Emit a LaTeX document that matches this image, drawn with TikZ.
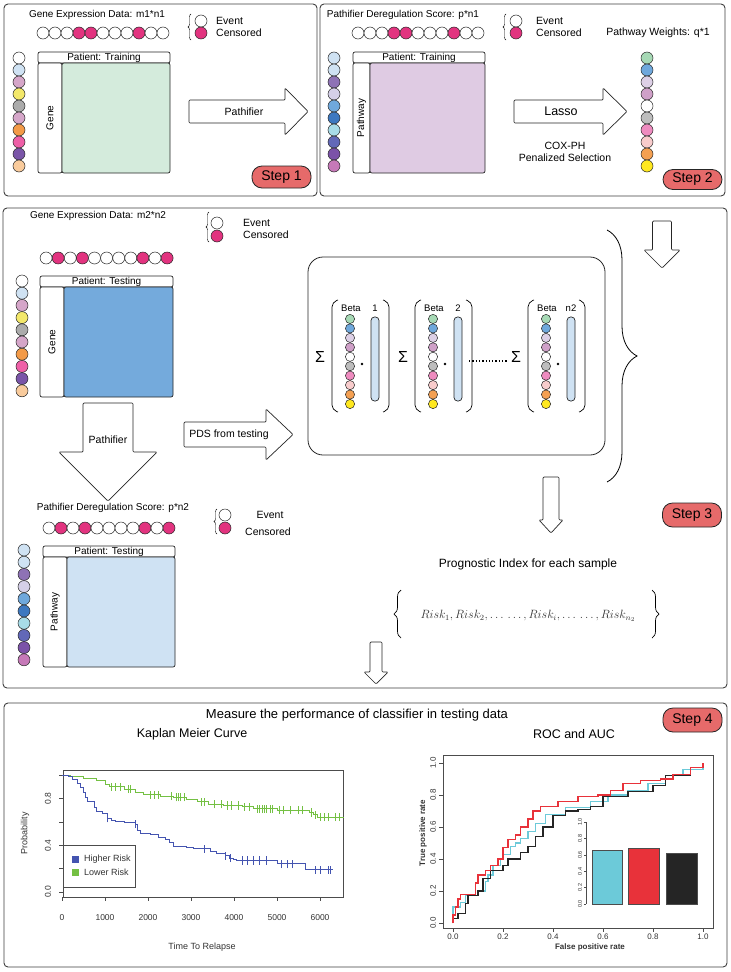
\documentclass[tikz,border=0pt]{standalone}
\usepackage{fontspec}
\setmainfont{Liberation Sans}
\usepackage{tikz}
\usepackage{xcolor}
\usetikzlibrary{decorations.pathreplacing, positioning}
\definecolor{cens}{HTML}{E2337F}
\definecolor{stepred}{HTML}{E66A6A}
\definecolor{trainGreen}{HTML}{D4EBDC}
\definecolor{trainPurple}{HTML}{DFCBE3}
\definecolor{testBlue}{HTML}{74AADC}
\definecolor{pdsBlue}{HTML}{CFE2F3}
% gene colours
\definecolor{gBlue}{HTML}{CFE2F3}
\definecolor{gLilac}{HTML}{D5A6C9}
\definecolor{gYellow}{HTML}{F3E86A}
\definecolor{gGray}{HTML}{ABABAB}
\definecolor{gOrange}{HTML}{F39A47}
\definecolor{gPink}{HTML}{EE5FA7}
\definecolor{gPurple}{HTML}{7A55A8}
\definecolor{gPeach}{HTML}{F9CB9C}
% pathway colours
\definecolor{pViolet}{HTML}{8E72B5}
\definecolor{pLavender}{HTML}{D5D0E8}
\definecolor{pBlue}{HTML}{6FA8DC}
\definecolor{pNavy}{HTML}{3D78C0}
\definecolor{pCyan}{HTML}{A8DCE8}
\definecolor{pSlate}{HTML}{6268B8}
\definecolor{pPurple}{HTML}{7B52A8}
\definecolor{pOrchid}{HTML}{C679B8}
% weight colours
\definecolor{wMint}{HTML}{A6D9B5}
\definecolor{wLavender}{HTML}{DDD0E6}
\definecolor{wLilac}{HTML}{CFA0C8}
\definecolor{wGray}{HTML}{BDBDBD}
\definecolor{wPink}{HTML}{EE8BBF}
\definecolor{wRose}{HTML}{F8CCCC}
\definecolor{wOrange}{HTML}{F4A052}
\definecolor{wYellow}{HTML}{FFE81F}
% plot colours
\definecolor{kmBlue}{HTML}{4454B0}
\definecolor{kmGreen}{HTML}{74C043}
\definecolor{rocCyan}{HTML}{6CCAD9}
\definecolor{rocRed}{HTML}{E8323A}
\definecolor{rocBlack}{HTML}{252525}

\begin{document}
\begin{tikzpicture}[x=1pt, y=-1pt,
    panel/.style={draw=black!75, line width=0.9pt, rounded corners=4pt},
    ball/.style={draw=black!85, line width=0.5pt},
    cell/.style={draw=black!85, line width=0.7pt, rounded corners=2pt},
    blkarrow/.style={draw=black!85, line width=0.7pt, fill=white, rounded corners=1pt},
    badge/.style={draw=black!85, line width=0.8pt, fill=stepred, rounded corners=10pt,
        minimum width=59pt, minimum height=22pt, inner sep=0pt, font=\fontsize{14}{16}\selectfont},
    lbl/.style={font=\fontsize{10}{12}\selectfont, inner sep=1pt},
    lgd/.style={font=\fontsize{10.5}{12}\selectfont, inner sep=1pt},
    hdr/.style={font=\fontsize{10}{12}\selectfont, inner sep=0pt},
    arr/.style={font=\fontsize{10.5}{12}\selectfont, inner sep=1pt},
    beta/.style={font=\fontsize{9.5}{11}\selectfont, inner sep=0pt},
    sig/.style={font=\fontsize{16}{18}\selectfont, inner sep=0pt},
    paren/.style={line width=0.7pt, rounded corners=5pt},
    ticklbl/.style={font=\fontsize{8}{9}\selectfont, inner sep=0pt, text=black!80},
    axln/.style={draw=black!70, line width=0.5pt}]
\useasboundingbox (0,0) rectangle (731,972);
\fill[white] (0,0) rectangle (731,972);

% Step 1: training expression
\draw[panel] (4,4) rectangle (317,196);
\node[lbl] (t1) at (97,15) {Gene Expression Data: m1*n1};
\foreach \c [count=\i] in {white,white,white,cens,cens,white,white,white,cens,white,white}
  \draw[ball, fill=\c] (31+12*\i,33) circle (6pt);
\draw[decorate, decoration={brace, amplitude=3pt}] (191,40) -- (191,14);
\draw[ball, fill=white] (201,21) circle (6pt);
\draw[ball, fill=cens] (201,33) circle (6pt);
\node[lgd, right] (ev1) at (215,21) {Event};
\node[lgd, right] (ce1) at (215,33) {Censored};
\foreach \c [count=\i] in {white,gBlue,gLilac,gYellow,gGray,gLilac,gOrange,gPink,gPurple,gPeach}
  \draw[ball, fill=\c] (19,46+12*\i) circle (6pt);
\draw[cell, fill=white] (38,52) rectangle (170,63);
\node[hdr] (h1) at (104,57.5) {Patient: Training};
\draw[cell, fill=white] (38,63) rectangle (62,173);
\draw[cell, fill=trainGreen] (62,63) rectangle (170,173);
\node[hdr, rotate=90] (g1) at (50,118) {Gene};
\draw[blkarrow] (189,100) -- (285,100) -- (285,88) -- (308,111.5) -- (285,135) -- (285,123) -- (189,123) -- cycle;
\node[arr] (a1) at (244,111.5) {Pathifier};
\node[badge] (s1) at (281.5,177) {Step 1};

% Step 2: pathway scores and lasso
\draw[panel] (320,4) rectangle (725,196);
\node[lbl] (t2) at (403,15) {Pathifier Deregulation Score: p*n1};
\foreach \c [count=\i] in {white,white,white,cens,cens,white,white,white,cens,white,white}
  \draw[ball, fill=\c] (346+12*\i,33) circle (6pt);
\draw[decorate, decoration={brace, amplitude=3pt}] (506,40) -- (506,14);
\draw[ball, fill=white] (516,21) circle (6pt);
\draw[ball, fill=cens] (516,33) circle (6pt);
\node[lgd, right] (ev2) at (535,21) {Event};
\node[lgd, right] (ce2) at (535,33) {Censored};
\node[lgd] (pw) at (658,33) {Pathway Weights: q*1};
\foreach \c [count=\i] in {gBlue,gBlue,pViolet,pLavender,pBlue,pNavy,pCyan,pSlate,pPurple,pOrchid}
  \draw[ball, fill=\c] (334,46+12*\i) circle (6pt);
\draw[cell, fill=white] (353,52) rectangle (485,63);
\node[hdr] (h2) at (419,57.5) {Patient: Training};
\draw[cell, fill=white] (353,63) rectangle (370,173);
\draw[cell, fill=trainPurple] (370,63) rectangle (485,173);
\node[hdr, rotate=90] (g2) at (361.5,118) {Pathway};
\draw[blkarrow] (514,100) -- (603,100) -- (603,88) -- (627,111.5) -- (603,135) -- (603,123) -- (514,123) -- cycle;
\node[arr, font=\fontsize{12.5}{14}\selectfont] (a2) at (561,111.5) {Lasso};
\node[arr] (cox) at (565,146) {COX-PH};
\node[arr, below=2pt of cox] (pen) {Penalized Selection};
\foreach \c [count=\i] in {wMint,pBlue,wLavender,wLilac,white,wGray,wPink,wRose,wOrange,wYellow}
  \draw[ball, fill=\c] (647,46+12*\i) circle (6pt);
\node[badge, minimum height=20pt] (s2) at (692.5,179.5) {Step 2};

% Step 3: testing
\draw[panel] (3,208) rectangle (727,688);
\node[lbl] (t3) at (98,216) {Gene Expression Data: m2*n2};
\draw[decorate, decoration={brace, amplitude=3pt}] (209,242) -- (209,212);
\draw[ball, fill=white] (217,223) circle (6pt);
\draw[ball, fill=cens] (217,236) circle (6pt);
\node[lgd, right] (ev3) at (242,223) {Event};
\node[lgd, right] (ce3) at (242,235) {Censored};
\foreach \c [count=\i] in {white,cens,white,cens,white,white,white,white,cens,white,cens}
  \draw[ball, fill=\c] (34+12.1*\i,258) circle (6pt);
\foreach \c [count=\i] in {white,gBlue,gLilac,gYellow,gGray,gLilac,gOrange,gPink,gPurple,gPeach}
  \draw[ball, fill=\c] (22,268.8+12.2*\i) circle (6pt);
\draw[cell, fill=white] (40,276) rectangle (173,287);
\node[hdr] (h3) at (106.5,281.5) {Patient: Testing};
\draw[cell, fill=white] (40,287) rectangle (64,397);
\draw[cell, fill=testBlue] (64,287) rectangle (173,397);
\node[hdr, rotate=90] (g3) at (52,342) {Gene};
\draw[blkarrow] (83,403) -- (133,403) -- (133,452) -- (157,452) -- (108,501) -- (59,452) -- (83,452) -- cycle;
\node[arr] (a3) at (108,440) {Pathifier};
\draw[blkarrow] (184,422) -- (266,422) -- (266,409) -- (293,434.5) -- (266,460) -- (266,447) -- (184,447) -- cycle;
\node[arr] (a4) at (229,434.5) {PDS from testing};

% pathway scores of testing set
\node[lbl] (t4) at (113,508) {Pathifier Deregulation Score: p*n2};
\foreach \c [count=\i] in {white,cens,white,cens,white,white,white,white,cens,white,cens}
  \draw[ball, fill=\c] (37+12*\i,528) circle (6pt);
\draw[decorate, decoration={brace, amplitude=3pt}] (217,534) -- (217,509);
\draw[ball, fill=white] (225,515) circle (6pt);
\draw[ball, fill=cens] (225,528) circle (6pt);
\node[lgd] (ev4) at (270,515) {Event};
\node[lgd] (ce4) at (268,532) {Censored};
\foreach \c [count=\i] in {gBlue,gBlue,pViolet,pLavender,pBlue,pNavy,pCyan,pSlate,pPurple,pOrchid}
  \draw[ball, fill=\c] (24,537.8+12.2*\i) circle (6pt);
\draw[cell, fill=white] (43,546) rectangle (175,557);
\node[hdr] (h4) at (109,551.5) {Patient: Testing};
\draw[cell, fill=white] (43,557) rectangle (67,667);
\draw[cell, fill=pdsBlue] (67,557) rectangle (175,667);
\node[hdr, rotate=90] (g4) at (55,612) {Pathway};

% weighted sums
\draw[line width=0.8pt, draw=black!85, rounded corners=15pt] (308,257) rectangle (605,455);
\foreach \gx/\lab in {332/1,415/2,528/n2}{
  \node[sig] (sg\lab) at (\gx-12,357) {Σ};
  \draw[paren] (\gx+6,300) -- (\gx,302) -- (\gx,410) -- (\gx+6,412);
  \draw[paren] (\gx+51,300) -- (\gx+57,302) -- (\gx+57,410) -- (\gx+51,412);
  \node[beta] (bt\lab) at (\gx+19,308) {Beta};
  \node[beta] (nb\lab) at (\gx+43,308) {\lab};
  \foreach \c [count=\i] in {wMint,pBlue,wLavender,wLilac,white,wGray,wPink,wRose,wOrange,wYellow}
    \draw[ball, fill=\c] (\gx+18,309.5+9.45*\i) circle (4.6pt);
  \fill (\gx+30,364) circle (1.3pt);
  \draw[cell, fill=pdsBlue, rounded corners=3.5pt] (\gx+39,317) rectangle (\gx+47,401);
}
\draw[dotted, line width=1.3pt] (469,361) -- (508,361);
\draw[decorate, decoration={brace, amplitude=30pt}, line width=0.8pt] (607,230) -- (607,482);
\draw[blkarrow] (652.5,221) -- (671.5,221) -- (671.5,250) -- (680,250) -- (662,268) -- (644,250) -- (652.5,250) -- cycle;
\draw[blkarrow] (543,477) -- (559,477) -- (559,520) -- (563,520) -- (551,533) -- (539,520) -- (543,520) -- cycle;
\node[badge, minimum height=24pt] (s3) at (692,515) {Step 3};
\node[font=\fontsize{12}{14}\selectfont] (pi) at (528,564) {Prognostic Index for each sample};
\draw[decorate, decoration={brace, amplitude=7pt}, line width=0.7pt] (401,638) -- (401,590);
\draw[decorate, decoration={brace, amplitude=7pt}, line width=0.7pt] (652,590) -- (652,638);
\node[font=\large, text=black!80] (risk) at (528,616) {$Risk_1, Risk_2, \ldots\,\ldots, Risk_i, \ldots\,\ldots, Risk_{n_2}$};
\draw[blkarrow] (370,642) -- (382,642) -- (382,672) -- (388,672) -- (376,684) -- (364,672) -- (370,672) -- cycle;

% Step 4: performance
\draw[panel] (4,703) rectangle (727,967);
\node[font=\fontsize{13}{15}\selectfont] (t5) at (357,715) {Measure the performance of classifier in testing data};
\node[badge, minimum height=24pt] (s4) at (692.5,720) {Step 4};
\node[font=\fontsize{12.5}{14}\selectfont] (km) at (192,734) {Kaplan Meier Curve};
\node[font=\fontsize{12.5}{14}\selectfont] (roc) at (574,734) {ROC and AUC};

% Kaplan Meier plot
\draw[axln] (63,770) rectangle (343,897);
\foreach \k in {0,...,5}
  \draw[axln] (63,892-23.4*\k) -- ++(-4,0);
\foreach \k/\l in {0/0.0,2/0.4,4/0.8}
  \node[ticklbl, rotate=90, font=\fontsize{8.5}{9}\selectfont] (ky\k) at (48,892-23.4*\k) {\l};
\node[ticklbl, rotate=90, font=\fontsize{9}{10}\selectfont] (kyl) at (25,833) {Probability};
\foreach \k/\l in {0/0,1/1000,2/2000,3/3000,4/4000,5/5000,6/6000}{
  \draw[axln] (62+43*\k,897) -- ++(0,4);
  \node[ticklbl, font=\fontsize{8.5}{9}\selectfont] (kx\k) at (62+43*\k,918) {\l};
}
\node[ticklbl, font=\fontsize{9}{10}\selectfont] (kxl) at (202,947) {Time To Relapse};
\begin{scope}[shift={(62,892)}, x=43pt, y=117pt]
  \draw[kmGreen, line width=1pt] plot[const plot] coordinates {(0,1) (0.2,0.99) (0.5,0.97) (0.8,0.95)
    (1.0,0.92) (1.1,0.90) (1.45,0.88) (1.7,0.85) (1.9,0.83) (2.3,0.82) (2.6,0.81) (2.9,0.79)
    (3.15,0.77) (3.4,0.75) (3.75,0.74) (4.2,0.73) (4.45,0.71) (5.0,0.70) (5.75,0.68) (5.85,0.66)
    (5.95,0.64) (6.55,0.64)};
  \foreach \t/\p in {1.15/0.90,1.25/0.90,1.35/0.90,1.55/0.88,1.6/0.88,2.05/0.83,2.15/0.83,2.25/0.83,
      2.55/0.82,2.65/0.81,2.7/0.81,2.75/0.81,2.85/0.81,3.25/0.77,3.3/0.77,3.55/0.75,3.7/0.75,
      3.85/0.74,3.95/0.74,4.1/0.74,4.25/0.73,4.35/0.73,4.55/0.71,4.6/0.71,4.65/0.71,4.7/0.71,
      4.75/0.71,4.85/0.71,4.9/0.71,5.05/0.70,5.15/0.70,5.3/0.70,5.5/0.70,5.6/0.70,5.8/0.68,
      5.9/0.66,6.0/0.64,6.1/0.64,6.2/0.64,6.35/0.64,6.45/0.64}
    \draw[kmGreen, line width=0.8pt] (\t,\p-0.035) -- (\t,\p+0.035);
  \draw[kmBlue, line width=1pt] plot[const plot] coordinates {(0,1) (0.15,0.99) (0.25,0.96)
    (0.35,0.93) (0.42,0.89) (0.5,0.85) (0.55,0.81) (0.6,0.77) (0.75,0.72) (0.8,0.69) (0.95,0.67)
    (1.05,0.63) (1.15,0.61) (1.25,0.60) (1.45,0.59) (1.7,0.58) (1.75,0.53) (1.82,0.50) (2.05,0.49)
    (2.25,0.47) (2.4,0.45) (2.5,0.42) (2.6,0.39) (2.9,0.38) (3.05,0.37) (3.45,0.35) (3.6,0.33)
    (3.8,0.31) (3.9,0.29) (3.98,0.28) (4.05,0.27) (4.95,0.27) (5.0,0.24) (5.65,0.24) (5.67,0.19)
    (6.3,0.19)};
  \foreach \t/\p in {1.05/0.63,1.7/0.58,3.3/0.37,3.8/0.31,3.92/0.29,4.2/0.27,4.3/0.27,4.45/0.27,
      4.6/0.27,4.75/0.27,5.1/0.24,5.25/0.24,5.35/0.24,5.9/0.19,6.0/0.19,6.2/0.19,6.25/0.19}
    \draw[kmBlue, line width=0.8pt] (\t,\p-0.035) -- (\t,\p+0.035);
\end{scope}
\draw[axln, fill=white] (63,845) rectangle (135,887);
\fill[kmBlue] (72,856) rectangle (79,863);
\fill[kmGreen] (72,869) rectangle (79,876);
\node[ticklbl, right, font=\fontsize{9}{10}\selectfont] (hr) at (84,859.5) {Higher Risk};
\node[ticklbl, right, font=\fontsize{9}{10}\selectfont] (lr) at (84,872.5) {Lower Risk};

% ROC plot
\draw[axln] (443,755) rectangle (713,928);
\foreach \k/\l in {0/0.0,1/0.2,2/0.4,3/0.6,4/0.8,5/1.0}{
  \draw[axln] (453+50*\k,928) -- ++(0,4);
  \node[ticklbl] (rx\k) at (453+50*\k,937) {\l};
  \draw[axln] (443,923-32*\k) -- ++(-4,0);
  \node[ticklbl, rotate=90] (ry\k) at (433,923-32*\k) {\l};
}
\node[ticklbl, font=\bfseries\fontsize{8}{9}\selectfont] (rxl) at (590,947) {False positive rate};
\node[ticklbl, rotate=90, font=\bfseries\fontsize{8}{9}\selectfont] (ryl) at (423,833) {True positive rate};
\begin{scope}[shift={(453,923)}, x=250pt, y=160pt]
  \draw[rocCyan, line width=1.3pt] plot[const plot] coordinates {(0,0.05) (0,0.1) (0.03,0.13) (0.05,0.17)
    (0.1,0.2) (0.13,0.26) (0.14,0.3) (0.16,0.36) (0.19,0.4) (0.2,0.43) (0.23,0.48) (0.25,0.5)
    (0.27,0.53) (0.3,0.57) (0.33,0.62) (0.37,0.68) (0.45,0.72) (0.55,0.76) (0.62,0.8) (0.7,0.83)
    (0.78,0.87) (0.85,0.92) (0.92,0.96) (1,0.99)};
  \draw[rocBlack, line width=1.1pt] plot[const plot] coordinates {(0,0) (0,0.03) (0.02,0.06) (0.05,0.12)
    (0.06,0.17) (0.1,0.2) (0.12,0.28) (0.15,0.33) (0.2,0.36) (0.22,0.4) (0.27,0.44) (0.3,0.48)
    (0.33,0.54) (0.36,0.6) (0.4,0.67) (0.45,0.7) (0.5,0.71) (0.55,0.73) (0.6,0.79) (0.7,0.82)
    (0.8,0.86) (0.85,0.92) (0.95,0.97) (1,1)};
  \draw[rocRed, line width=1.3pt] plot[const plot] coordinates {(0,0) (0,0.05) (0.01,0.1) (0.02,0.15)
    (0.03,0.18) (0.07,0.18) (0.09,0.25) (0.1,0.3) (0.13,0.33) (0.15,0.36) (0.18,0.4) (0.2,0.47)
    (0.22,0.52) (0.25,0.55) (0.27,0.6) (0.3,0.65) (0.32,0.7) (0.35,0.73) (0.42,0.76) (0.5,0.79)
    (0.58,0.8) (0.63,0.83) (0.68,0.87) (0.75,0.89) (0.83,0.9) (0.88,0.93) (0.95,0.97) (1,1)};
\end{scope}
% AUC bars
\draw[axln] (586,822) -- (586,904);
\foreach \k/\l in {0/0.0,1/0.2,2/0.4,3/0.6,4/0.8,5/1.0}{
  \draw[axln] (586,904-16.4*\k) -- ++(-2,0);
  \node[ticklbl, rotate=90, font=\fontsize{5.5}{6}\selectfont] (ay\k) at (580,904-16.4*\k) {\l};
}
\draw[draw=black!70, fill=rocCyan] (592,850) rectangle (622,904);
\draw[draw=black!70, fill=rocRed] (628,848) rectangle (659,904);
\draw[draw=black!70, fill=rocBlack] (666,853) rectangle (697,904);
\end{tikzpicture}
\end{document}
